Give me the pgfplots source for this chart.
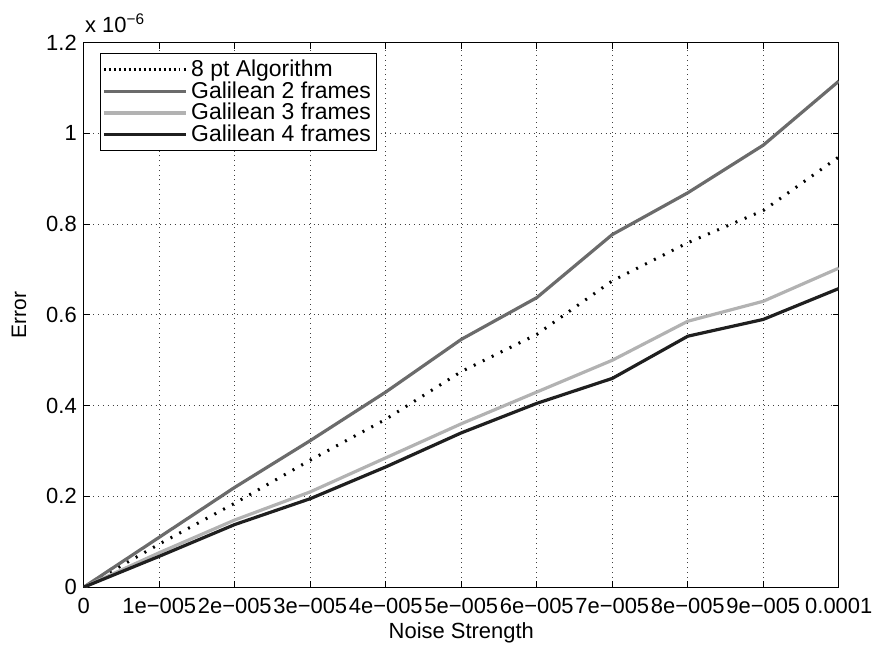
\documentclass[border=0pt]{standalone}
\usepackage{pgfplots}
\pgfplotsset{compat=1.18}
\usepackage{fontspec}
\setmainfont{Liberation Sans}
\definecolor{gtwo}{gray}{0.42}
\definecolor{gthree}{gray}{0.70}
\definecolor{gfour}{gray}{0.12}
\begin{document}
\begin{tikzpicture}
\begin{axis}[
  name=ax,
  scale only axis, width=378.5pt, height=273pt,
  xmin=0, xmax=10, ymin=0, ymax=1.2,
  xtick={0,1,2,3,4,5,6,7,8,9,10},
  xticklabels={0,1e−005,2e−005,3e−005,4e−005,5e−005,6e−005,7e−005,8e−005,9e−005,0.0001},
  ytick={0,0.2,0.4,0.6,0.8,1,1.2},
  yticklabels={0,0.2,0.4,0.6,0.8,1,1.2},
  grid=major,
  major grid style={dotted, black!75, line width=0.45pt},
  tick align=inside, major tick length=3pt,
  tick style={black, line width=0.4pt},
  axis line style={black, line width=0.5pt},
  ticklabel style={font=\fontsize{11}{13}\selectfont},
  xticklabel style={yshift=-2pt},
  xlabel={Noise Strength}, ylabel={Error},
  label style={font=\fontsize{11}{13}\selectfont},
  xlabel style={at={(axis description cs:0.5,-0.0835)}, anchor=center},
  ylabel style={at={(axis description cs:-0.0859,0.5)}, anchor=center, font=\fontsize{10.5}{12}\selectfont},
  legend style={at={(rel axis cs:0.0211,0.98)}, anchor=north west,
    font=\fontsize{11.5}{13}\selectfont, draw=black, line width=0.5pt,
    inner sep=1pt, row sep=-3pt, cells={anchor=west}},
  legend image code/.code={\draw[#1] (2.5pt,0pt) -- (38pt,0pt); \path (0pt,0pt) -- (41pt,0pt);},
]
\addplot[black, line width=1.5pt, dash pattern=on 1pt off 4pt] coordinates {
(0,0) (1,0.095) (2,0.185) (3,0.28) (4,0.37) (5,0.475) (6,0.557) (7,0.675) (8,0.759) (9,0.83) (10,0.948)};
\addlegendentry{8 pt Algorithm}
\addplot[gtwo, line width=1.6pt] coordinates {
(0,0) (1,0.11) (2,0.22) (3,0.323) (4,0.43) (5,0.546) (6,0.638) (7,0.777) (8,0.869) (9,0.974) (10,1.115)};
\addlegendentry{Galilean 2 frames}
\addplot[gthree, line width=1.6pt] coordinates {
(0,0) (1,0.076) (2,0.148) (3,0.21) (4,0.285) (5,0.36) (6,0.43) (7,0.5) (8,0.586) (9,0.63) (10,0.703)};
\addlegendentry{Galilean 3 frames}
\addplot[gfour, line width=1.6pt] coordinates {
(0,0) (1,0.068) (2,0.138) (3,0.195) (4,0.265) (5,0.34) (6,0.405) (7,0.46) (8,0.553) (9,0.59) (10,0.658)};
\addlegendentry{Galilean 4 frames}
\end{axis}
\node[anchor=base west, inner sep=0pt, font=\fontsize{11}{13}\selectfont] at ([shift={(0.5pt,5.3pt)}]ax.north west) {x 10\textsuperscript{−6}};
\path[use as bounding box] ([shift={(-42pt,21.35pt)}]ax.north west) rectangle ++(439.5pt,-322.5pt);
\end{tikzpicture}
\end{document}
